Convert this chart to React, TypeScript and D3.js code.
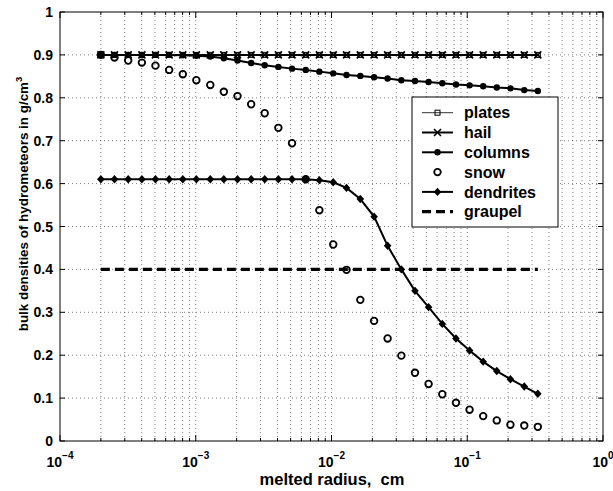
import React from "react";
import * as d3 from "d3";

// melted radius, cm (33 points, log-spaced in the original)
const radius = [
  2.0e-4, 2.52e-4, 3.18e-4, 4.01e-4, 5.05e-4, 6.37e-4, 8.03e-4, 1.01e-3,
  1.28e-3, 1.61e-3, 2.03e-3, 2.56e-3, 3.22e-3, 4.06e-3, 5.12e-3, 6.46e-3,
  8.14e-3, 1.03e-2, 1.29e-2, 1.63e-2, 2.06e-2, 2.59e-2, 3.27e-2, 4.12e-2,
  5.19e-2, 6.55e-2, 8.26e-2, 0.104, 0.131, 0.165, 0.208, 0.263, 0.331,
];

const plates = [
  0.9, 0.9, 0.9, 0.9, 0.9, 0.9, 0.9, 0.9, 0.9, 0.9, 0.9, 0.9, 0.9, 0.9, 0.9, 0.9,
  0.9, 0.9, 0.9, 0.9, 0.9, 0.9, 0.9, 0.9, 0.9, 0.9, 0.9, 0.9, 0.9, 0.9, 0.9, 0.9, 0.9,
];
const hail = [
  0.9, 0.9, 0.9, 0.9, 0.9, 0.9, 0.9, 0.9, 0.9, 0.9, 0.9, 0.9, 0.9, 0.9, 0.9, 0.9,
  0.9, 0.9, 0.9, 0.9, 0.9, 0.9, 0.9, 0.9, 0.9, 0.9, 0.9, 0.9, 0.9, 0.9, 0.9, 0.9, 0.9,
];
const columns = [
  0.9, 0.9, 0.9, 0.9, 0.9, 0.9, 0.899, 0.898, 0.896, 0.892, 0.887, 0.881, 0.876,
  0.872, 0.868, 0.865, 0.861, 0.857, 0.853, 0.851, 0.848, 0.845, 0.841, 0.839,
  0.837, 0.834, 0.831, 0.829, 0.827, 0.824, 0.822, 0.818, 0.816,
];
const snow = [
  0.9, 0.894, 0.887, 0.882, 0.875, 0.865, 0.855, 0.841, 0.83, 0.814, 0.804,
  0.785, 0.764, 0.73, 0.694, 0.61, 0.538, 0.458, 0.399, 0.329, 0.28, 0.239,
  0.199, 0.159, 0.133, 0.109, 0.089, 0.073, 0.058, 0.048, 0.038, 0.036, 0.033,
];
const dendrites = [
  0.61, 0.61, 0.61, 0.61, 0.61, 0.61, 0.61, 0.61, 0.61, 0.61, 0.61, 0.61, 0.61,
  0.61, 0.61, 0.61, 0.608, 0.603, 0.59, 0.564, 0.523, 0.455, 0.4, 0.35, 0.312,
  0.273, 0.239, 0.211, 0.185, 0.163, 0.144, 0.127, 0.11,
];
const graupel = [
  0.4, 0.4, 0.4, 0.4, 0.4, 0.4, 0.4, 0.4, 0.4, 0.4, 0.4, 0.4, 0.4, 0.4, 0.4, 0.4,
  0.4, 0.4, 0.4, 0.4, 0.4, 0.4, 0.4, 0.4, 0.4, 0.4, 0.4, 0.4, 0.4, 0.4, 0.4, 0.4, 0.4,
];

const legendNames = ["plates", "hail", "columns", "snow", "dendrites", "graupel"];
const decades = [-4, -3, -2, -1, 0];
const yTicks = [0, 0.1, 0.2, 0.3, 0.4, 0.5, 0.6, 0.7, 0.8, 0.9, 1];
const yTickLabels = ["0", "0.1", "0.2", "0.3", "0.4", "0.5", "0.6", "0.7", "0.8", "0.9", "1"];

const W = 613,
  H = 491;
const FONT = "'Liberation Sans', Arial, Helvetica, sans-serif";

const x = d3.scaleLog().domain([1e-4, 1]).range([60, 603]);
const y = d3.scaleLinear().domain([0, 1]).range([441, 12]);

const marker = (kind: string, cx: number, cy: number, key: any) => {
  switch (kind) {
    case "square":
      return <rect key={key} x={cx - 2.5} y={cy - 2.5} width={5} height={5} fill="none" stroke="#000" strokeWidth={1} />;
    case "x":
      return (
        <path key={key} d={`M${cx - 3.5},${cy - 3.5}L${cx + 3.5},${cy + 3.5}M${cx - 3.5},${cy + 3.5}L${cx + 3.5},${cy - 3.5}`}
          stroke="#000" strokeWidth={1.6} fill="none" />
      );
    case "dot":
      return <circle key={key} cx={cx} cy={cy} r={3.2} fill="#000" />;
    case "circle":
      return <circle key={key} cx={cx} cy={cy} r={3.3} fill="none" stroke="#000" strokeWidth={1.8} />;
    case "diamond":
      return <path key={key} d={`M${cx},${cy - 4.2}L${cx + 3.8},${cy}L${cx},${cy + 4.2}L${cx - 3.8},${cy}Z`} fill="#000" />;
    default:
      return null;
  }
};

const series = [
  { name: "plates", values: plates, line: true, width: 1, dash: null, mk: "square" },
  { name: "hail", values: hail, line: true, width: 2, dash: null, mk: "x" },
  { name: "columns", values: columns, line: true, width: 2, dash: null, mk: "dot" },
  { name: "snow", values: snow, line: false, width: 0, dash: null, mk: "circle" },
  { name: "dendrites", values: dendrites, line: true, width: 2, dash: null, mk: "diamond" },
  { name: "graupel", values: graupel, line: true, width: 3.2, dash: "9,5", mk: null },
];

export default function App() {
  const lineGen = d3
    .line<number>()
    .x((_, i) => x(radius[i]))
    .y((d) => y(d));

  const xMinor: number[] = [];
  decades.slice(0, 4).forEach((d) => {
    for (let k = 2; k <= 9; k++) xMinor.push(k * Math.pow(10, d));
  });
  const xMajor = decades.map((d) => Math.pow(10, d));
  const gridX = xMinor.concat(xMajor.slice(1, 4));

  const [x0, x1] = x.range();
  const [y0, y1] = y.range();

  return (
    <div style={{ position: "absolute", left: 0, top: 0 }}>
      <svg width={W} height={H} style={{ display: "block", background: "#fff" }}>
        <rect width={W} height={H} fill="#fff" />
        {/* grid */}
        <g stroke="#000" strokeWidth={0.7} strokeDasharray="1,3" opacity={0.7}>
          {gridX.map((v, i) => (
            <line key={"gx" + i} x1={x(v)} x2={x(v)} y1={y1} y2={y0} />
          ))}
          {yTicks.slice(1, 10).map((v, i) => (
            <line key={"gy" + i} x1={x0} x2={x1} y1={y(v)} y2={y(v)} />
          ))}
        </g>
        {/* ticks */}
        <g stroke="#000" strokeWidth={1}>
          {xMajor.map((v, i) => (
            <g key={"xm" + i}>
              <line x1={x(v)} x2={x(v)} y1={y0} y2={y0 - 6} />
              <line x1={x(v)} x2={x(v)} y1={y1} y2={y1 + 6} />
            </g>
          ))}
          {xMinor.map((v, i) => (
            <g key={"xn" + i}>
              <line x1={x(v)} x2={x(v)} y1={y0} y2={y0 - 3} />
              <line x1={x(v)} x2={x(v)} y1={y1} y2={y1 + 3} />
            </g>
          ))}
          {yTicks.map((v, i) => (
            <g key={"yt" + i}>
              <line x1={x0} x2={x0 + 5} y1={y(v)} y2={y(v)} />
              <line x1={x1} x2={x1 - 5} y1={y(v)} y2={y(v)} />
            </g>
          ))}
        </g>
        {/* series */}
        {series.map((s) =>
          s.line ? (
            <path key={"l" + s.name} d={lineGen(s.values) || ""} fill="none" stroke="#000"
              strokeWidth={s.width} strokeDasharray={s.dash || undefined} />
          ) : null
        )}
        {series.map((s) =>
          s.mk ? <g key={"m" + s.name}>{s.values.map((v, i) => marker(s.mk as string, x(radius[i]), y(v), i))}</g> : null
        )}
        {/* axes box */}
        <rect x={x0} y={y1} width={x1 - x0} height={y0 - y1} fill="none" stroke="#000" strokeWidth={1} />
        {/* tick labels */}
        <g fontFamily={FONT} fontWeight="bold" fill="#000">
          {yTicks.map((v, i) => (
            <text key={"yl" + i} x={53} y={y(v)} dy="0.36em" textAnchor="end" fontSize={14}>
              {yTickLabels[i]}
            </text>
          ))}
          {decades.map((d, i) => (
            <text key={"xl" + i} x={x(Math.pow(10, d))} y={467} textAnchor="middle" fontSize={14}>
              10
              <tspan dy={-8} fontSize={10}>
                {d === 0 ? "0" : "\u2212" + Math.abs(d)}
              </tspan>
            </text>
          ))}
          <text x={332} y={485} textAnchor="middle" fontSize={16.5}>
            {"melted radius,\u00a0\u00a0cm"}
          </text>
          <text transform="translate(28,204) rotate(-90)" textAnchor="middle" fontSize={13.4}>
            bulk densities of hydrometeors in g/cm
            <tspan dy={-6} fontSize={9.5}>3</tspan>
          </text>
        </g>
        {/* legend */}
        <g>
          <rect x={412} y={97} width={146} height={130} fill="#fff" stroke="#000" strokeWidth={1} />
          {series.map((s, i) => {
            const ly = 112.7 + i * 19.8;
            return (
              <g key={"lg" + i}>
                {s.line ? (
                  <line x1={422} x2={453} y1={ly} y2={ly} stroke={s.name === "plates" ? "#333" : "#000"}
                    strokeWidth={s.width} strokeDasharray={s.dash || undefined} />
                ) : null}
                {s.mk ? marker(s.mk, 437.5, ly, "mk") : null}
                <text x={464} y={ly} dy="0.36em" fontFamily={FONT} fontWeight="bold" fontSize={16}>
                  {legendNames[i]}
                </text>
              </g>
            );
          })}
        </g>
      </svg>
    </div>
  );
}
